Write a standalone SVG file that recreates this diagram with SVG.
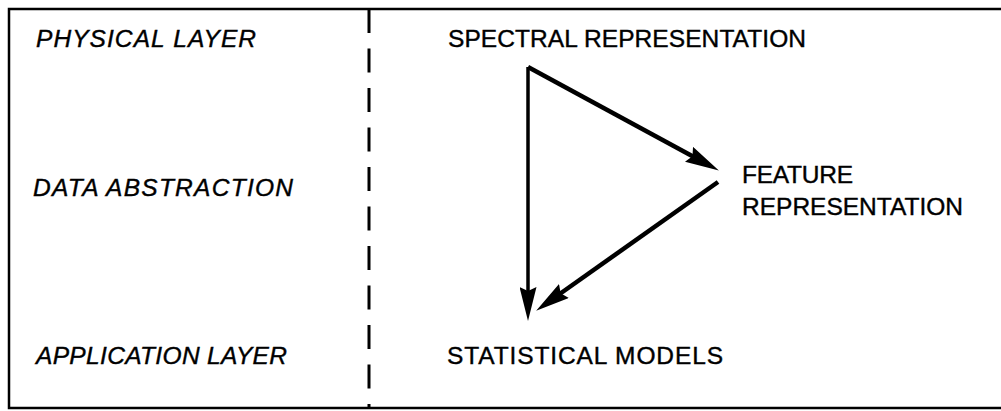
<svg xmlns="http://www.w3.org/2000/svg" width="1001" height="411" viewBox="0 0 1001 411">
  <style>
    .lbl { font-family: "Liberation Sans", Arial, sans-serif; font-size: 24.5px; fill: #000; stroke: #000; stroke-width: 0.4px; }
    .layer { font-style: italic; }
    .frame { fill: none; stroke: #000; stroke-width: 2.5; }
    .divider { fill: none; stroke: #000; stroke-width: 3; stroke-dasharray: 24 15.5; }
    .conn { fill: none; stroke: #000; stroke-width: 4.5; stroke-linecap: butt; marker-end: url(#arrow); }
  </style>
  <defs>
    <marker id="arrow" viewBox="0 0 34 17" refX="13" refY="8.5" markerWidth="34" markerHeight="17" markerUnits="userSpaceOnUse" orient="auto">
      <path d="M0,0 L34,8.5 L0,17 L4,8.5 z" fill="#000"/>
    </marker>
  </defs>
  <rect x="0" y="0" width="1001" height="411" fill="#fff"/>
  <g id="frame">
    <path class="frame" d="M1001,9 H9 V408 H1001"/>
    <path class="divider" d="M369,9 V408"/>
  </g>
  <g id="layer-physical"><text class="lbl layer" x="36" y="47" textLength="220" lengthAdjust="spacing">PHYSICAL LAYER</text></g>
  <g id="layer-data"><text class="lbl layer" x="33" y="196" textLength="260" lengthAdjust="spacing">DATA ABSTRACTION</text></g>
  <g id="layer-application"><text class="lbl layer" x="36" y="364" textLength="251" lengthAdjust="spacing">APPLICATION LAYER</text></g>
  <g id="node-spectral"><text class="lbl" x="448" y="47" textLength="358" lengthAdjust="spacing">SPECTRAL REPRESENTATION</text></g>
  <g id="node-feature">
    <text class="lbl" x="742" y="183" textLength="111" lengthAdjust="spacing">FEATURE</text>
    <text class="lbl" x="742" y="215" textLength="221" lengthAdjust="spacing">REPRESENTATION</text>
  </g>
  <g id="node-statistical"><text class="lbl" x="447" y="364" textLength="276" lengthAdjust="spacing">STATISTICAL MODELS</text></g>
  <g id="connectors">
    <path class="conn" d="M528,67 L700.4,160.5"/>
    <path class="conn" style="stroke-width:3.5" d="M528,67 L528,300"/>
    <path class="conn" d="M718,182 L553.3,298.5"/>
  </g>
</svg>
